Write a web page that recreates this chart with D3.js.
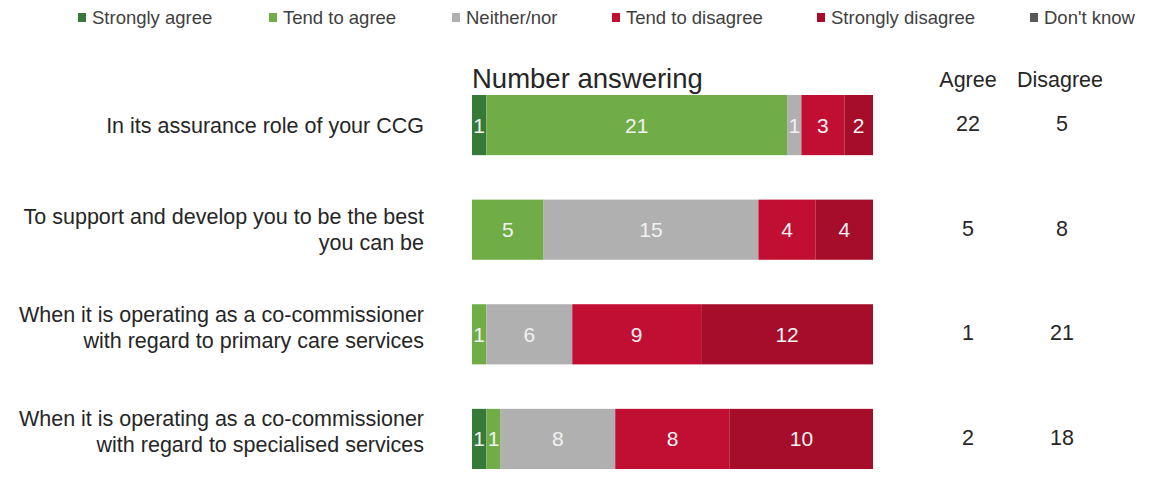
<!DOCTYPE html>
<html><head><meta charset="utf-8">
<script src="https://cdn.jsdelivr.net/npm/d3@7"></script>
<style>body{margin:0;background:#fff}svg{display:block}text{font-family:"Liberation Sans",Arial,sans-serif}</style>
</head><body><svg id="c" width="1158" height="491"></svg>
<script>
const categories = [
  ["In its assurance role of your CCG"],
  ["To support and develop you to be the best", "you can be"],
  ["When it is operating as a co-commissioner", "with regard to primary care services"],
  ["When it is operating as a co-commissioner", "with regard to specialised services"]
];
const seriesNames = ["Strongly agree","Tend to agree","Neither/nor","Tend to disagree","Strongly disagree","Don't know"];
const stronglyAgree   = [1, 0, 0, 1];
const tendToAgree     = [21, 5, 1, 1];
const neitherNor      = [1, 15, 6, 8];
const tendToDisagree  = [3, 4, 9, 8];
const stronglyDisagree= [2, 4, 12, 10];
const dontKnow        = [0, 0, 0, 0];
const agreeTotals     = [22, 5, 1, 2];
const disagreeTotals  = [5, 8, 21, 18];
const colors = ["#357a38","#70ad47","#b0b0b1","#c00f33","#a50d2b","#595959"];

const svg = d3.select("#c");
const series = [stronglyAgree,tendToAgree,neitherNor,tendToDisagree,stronglyDisagree,dontKnow];
const rows = categories.map((c,i)=>{const o={i}; seriesNames.forEach((s,k)=>o[s]=series[k][i]); return o;});
const stacked = d3.stack().keys(seriesNames)(rows);

const x = d3.scaleLinear().domain([0,28]).range([472,873]);
const y = d3.scaleBand().domain(d3.range(categories.length)).range([95,469]).paddingInner(0.425).paddingOuter(0);
const color = d3.scaleOrdinal().domain(seriesNames).range(colors);
const labelShift = [0, 0, -7, -7];

// legend
const legendX = [78,269,452,612,817,1030];
const lg = svg.append("g");
seriesNames.forEach((s,k)=>{
  lg.append("rect").attr("x",legendX[k]).attr("y",13).attr("width",8).attr("height",9).attr("fill",color(s));
  lg.append("text").attr("x",legendX[k]+14).attr("y",24).attr("font-size",18.5).attr("fill","#404040").text(s);
});

svg.append("text").attr("x",472).attr("y",88).attr("font-size",27.5).attr("fill","#262626").text("Number answering");
svg.append("text").attr("x",968).attr("y",87).attr("text-anchor","middle").attr("font-size",21.5).attr("fill","#262626").text("Agree");
svg.append("text").attr("x",1060).attr("y",87).attr("text-anchor","middle").attr("font-size",21.5).attr("fill","#262626").text("Disagree");

const layers = svg.append("g").selectAll("g").data(stacked).join("g").attr("fill",d=>color(d.key));
layers.selectAll("rect").data(d=>d).join("rect")
  .attr("x",d=>x(d[0])).attr("width",d=>x(d[1])-x(d[0]))
  .attr("y",(d,i)=>y(i)).attr("height",y.bandwidth());
layers.selectAll("text").data(d=>d.filter(v=>v[1]-v[0]>0)).join("text")
  .attr("x",d=>(x(d[0])+x(d[1]))/2).attr("y",d=>y(d.data.i)+y.bandwidth()/2+7.5)
  .attr("text-anchor","middle").attr("font-size",21).attr("fill","#f2f2f2").text(d=>d[1]-d[0]);

// category labels
categories.forEach((lines,i)=>{
  const cy = y(i)+y.bandwidth()/2;
  const t = svg.append("text").attr("text-anchor","end").attr("font-size",21.5).attr("fill","#262626");
  lines.forEach((l,j)=>{
    t.append("tspan").attr("x",424).attr("y",cy+labelShift[i]+7.5+(j-(lines.length-1)/2)*26).text(l);
  });
  svg.append("text").attr("x",968).attr("y",cy+6).attr("text-anchor","middle").attr("font-size",21.5).attr("fill","#262626").text(agreeTotals[i]);
  svg.append("text").attr("x",1062).attr("y",cy+6).attr("text-anchor","middle").attr("font-size",21.5).attr("fill","#262626").text(disagreeTotals[i]);
});
</script></body></html>
